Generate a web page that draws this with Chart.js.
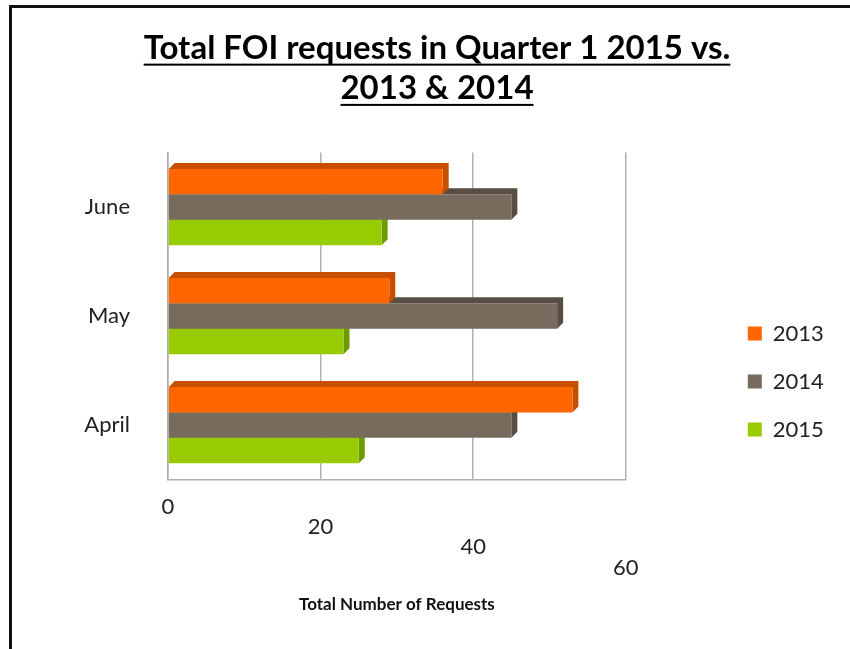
<!DOCTYPE html>
<html>
<head>
<meta charset="utf-8">
<script src="https://cdn.jsdelivr.net/npm/chart.js@4.4.1/dist/chart.umd.min.js"></script>
<style>
  html, body { margin: 0; padding: 0; background: #fff; overflow: hidden; }
  #frame {
    position: absolute; left: 9px; top: 5px; width: 862px; height: 641px;
    border-left: 3px solid #111; border-top: 3px solid #111;
  }
</style>
</head>
<body>
<div id="frame"><canvas id="myChart" width="862" height="641"></canvas></div>
<script>
const months = ['June', 'May', 'April'];
const years = ['2013', '2014', '2015'];
const values2013 = [36, 29, 53];
const values2014 = [45, 51, 45];
const values2015 = [28, 23, 25];
const xTicks = [0, 20, 40, 60];

const fronts = ['#FF6600', '#776B5D', '#99CC00'];
const sides = ['#C65000', '#574D42', '#6E9A00'];
const titleLines = ['Total FOI requests in Quarter 1 2015 vs.', '2013 & 2014'];
const titleFont = { family: 'Lato', size: 33, weight: 'bold', lineHeight: 1.22 };

// fake 3D: draw a top + right face behind every bar
const depthBars = {
    id: 'depthBars',
    beforeDatasetsDraw(chart) {
        const ctx = chart.ctx;
        const d = 6;
        ctx.save();
        for (let i = chart.data.datasets.length - 1; i >= 0; i--) {
            chart.getDatasetMeta(i).data.forEach(bar => {
                const p = bar.getProps(['x', 'y', 'base', 'height'], true);
                const top = p.y - p.height / 2, bottom = p.y + p.height / 2;
                ctx.fillStyle = sides[i];
                ctx.beginPath();
                ctx.moveTo(p.base, top);
                ctx.lineTo(p.base + d, top - d);
                ctx.lineTo(p.x + d, top - d);
                ctx.lineTo(p.x + d, bottom - d);
                ctx.lineTo(p.x, bottom);
                ctx.lineTo(p.x, top);
                ctx.closePath();
                ctx.fill();
            });
        }
        ctx.restore();
    }
};

// underline the title lines
const underline = {
    id: 'underline',
    afterDraw(chart) {
        const t = chart.titleBlock;
        const ctx = chart.ctx;
        const lh = titleFont.size * titleFont.lineHeight;
        ctx.save();
        ctx.font = 'bold ' + titleFont.size + 'px Lato';
        ctx.fillStyle = '#000';
        const cx = (t.left + t.right) / 2;
        titleLines.forEach((line, i) => {
            const w = ctx.measureText(line).width;
            const yc = t.top + 20 + lh * i + lh / 2;
            ctx.fillRect(cx - w / 2, yc + titleFont.size * 0.47, w, 2);
        });
        ctx.restore();
    }
};

new Chart(document.getElementById('myChart').getContext('2d'), {
    type: 'bar',
    data: {
        labels: months,
        datasets: [
            { label: years[0], data: values2013, backgroundColor: fronts[0] },
            { label: years[1], data: values2014, backgroundColor: fronts[1] },
            { label: years[2], data: values2015, backgroundColor: fronts[2] }
        ]
    },
    plugins: [depthBars, underline],
    options: {
        indexAxis: 'y',
        responsive: false,
        animation: false,
        layout: { padding: { left: 0, right: 12, top: 0, bottom: 34 } },
        datasets: { bar: { categoryPercentage: 0.7, barPercentage: 1.0 } },
        scales: {
            x: {
                min: 0, max: 60,
                afterBuildTicks: s => { s.ticks = xTicks.map(v => ({ value: v })); },
                grid: { color: '#b0b0b0', lineWidth: 1.5, drawTicks: false },
                border: { color: '#b0b0b0', width: 1.5 },
                ticks: {
                    padding: 17, color: '#222',
                    font: { family: 'Lato', size: 22, lineHeight: 0.92 },
                    // step each label down a little, like the tilted floor
                    callback: (v, i) => Array(i).fill('').concat(String(v))
                },
                title: {
                    display: true, text: 'Total Number of Requests', color: '#111',
                    font: { family: 'Lato', size: 17, weight: 'bold' },
                    padding: { top: 0, bottom: 0 }
                }
            },
            y: {
                afterFit: s => { s.width = 156; },
                grid: { display: false },
                border: { color: '#b0b0b0', width: 1.5 },
                ticks: { padding: 30, color: '#222', font: { family: 'Lato', size: 22 } }
            },
            gap: {
                axis: 'y', position: 'right', display: true,
                afterFit: s => { s.width = 96; },
                grid: { display: false }, border: { display: false },
                ticks: { display: false }
            }
        },
        plugins: {
            title: {
                display: true, text: titleLines, color: '#000',
                font: titleFont,
                padding: { top: 20, bottom: 44 }
            },
            legend: {
                position: 'right',
                title: { display: true, text: ' ', font: { size: 10 }, padding: { top: 0, bottom: 128 } },
                labels: {
                    boxWidth: 14, boxHeight: 14, padding: 26, color: '#222',
                    font: { family: 'Lato', size: 22 },
                    // trailing blanks keep the legend clear of the right edge
                    generateLabels: chart => Chart.defaults.plugins.legend.labels.generateLabels(chart)
                        .map(l => Object.assign(l, { text: l.text + '     ' }))
                }
            },
            tooltip: { enabled: false }
        }
    }
});
</script>
</body>
</html>
